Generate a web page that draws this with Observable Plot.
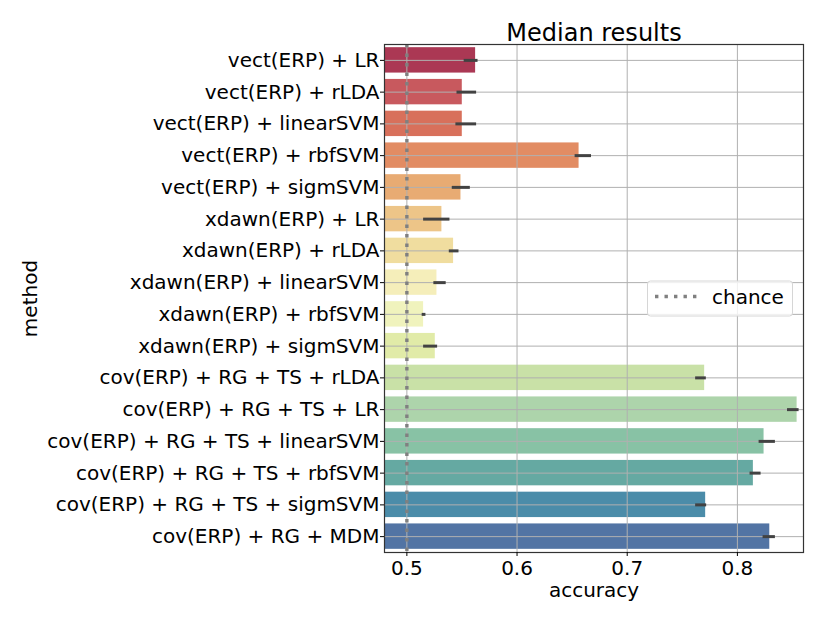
<!DOCTYPE html>
<html>
<head>
<meta charset="utf-8">
<script src="https://cdn.jsdelivr.net/npm/d3@7"></script>
<script src="https://cdn.jsdelivr.net/npm/@observablehq/plot@0.6"></script>
<style>
  html, body { margin: 0; padding: 0; background: white; }
  #chart { width: 830px; height: 623px; }
</style>
</head>
<body>
<div id="chart"></div>
<script>
const methods = [
  "vect(ERP) + LR",
  "vect(ERP) + rLDA",
  "vect(ERP) + linearSVM",
  "vect(ERP) + rbfSVM",
  "vect(ERP) + sigmSVM",
  "xdawn(ERP) + LR",
  "xdawn(ERP) + rLDA",
  "xdawn(ERP) + linearSVM",
  "xdawn(ERP) + rbfSVM",
  "xdawn(ERP) + sigmSVM",
  "cov(ERP) + RG + TS + rLDA",
  "cov(ERP) + RG + TS + LR",
  "cov(ERP) + RG + TS + linearSVM",
  "cov(ERP) + RG + TS + rbfSVM",
  "cov(ERP) + RG + TS + sigmSVM",
  "cov(ERP) + RG + MDM"
];
const accuracy = [0.5624, 0.5503, 0.5503, 0.6563, 0.5491, 0.5318, 0.5424, 0.5273,
                  0.5152, 0.5258, 0.7703, 0.8542, 0.8242, 0.8145, 0.7712, 0.8294];
const ciLow    = [0.5520, 0.5455, 0.5445, 0.6527, 0.5412, 0.5152, 0.5385, 0.5245,
                  0.5139, 0.5152, 0.7621, 0.8455, 0.8197, 0.8115, 0.7621, 0.8233];
const ciHigh   = [0.5646, 0.5633, 0.5633, 0.6676, 0.5576, 0.5391, 0.5473, 0.5357,
                  0.5173, 0.5279, 0.7718, 0.8560, 0.8345, 0.8215, 0.7721, 0.8345];
const xTicks = [0.5, 0.6, 0.7, 0.8];
const chance = [0.5];
const chanceLabel = "chance";
const title = "Median results";

// Spectral colormap anchors (matplotlib), sampled like seaborn and desaturated 0.75
const spectralAnchors = ["#9e0142","#d53e4f","#f46d43","#fdae61","#fee08b","#ffffbf",
                         "#e6f598","#abdda4","#66c2a5","#3288bd","#5e4fa2"];
const spectral = d3.scaleLinear()
  .domain(d3.range(spectralAnchors.length).map(i => i / (spectralAnchors.length - 1)))
  .range(spectralAnchors)
  .interpolate(d3.interpolateRgb);
const palette = methods.map((m, i) => {
  const c = d3.hsl(spectral((i + 1) / (methods.length + 1)));
  c.s *= 0.75;
  return c.formatHex();
});

const data = methods.map((m, i) => ({
  method: m, acc: accuracy[i], lo: ciLow[i], hi: ciHigh[i], color: palette[i]
}));

const gridColor = "#b0b0b0";
const dash = "3.4,6.1";

const plot = Plot.plot({
  width: 830,
  height: 623,
  marginLeft: 384,
  marginRight: 27,
  marginTop: 44,
  marginBottom: 71,
  style: {fontFamily: "DejaVu Sans", fontSize: "20px", color: "black", background: "white"},
  x: {domain: [0.4797, 0.86]},
  y: {domain: methods, paddingInner: 0.2, paddingOuter: 0.1, round: false},
  color: {type: "identity"},
  marks: [
    Plot.barX(data, {x1: 0, x2: "acc", y: "method", fill: "color", clip: true}),
    Plot.ruleX(xTicks, {stroke: gridColor, strokeWidth: 1}),
    Plot.ruleY(methods, {y: d => d, stroke: gridColor, strokeWidth: 1}),
    Plot.ruleX(chance, {stroke: "#808080", strokeWidth: 3.4, strokeDasharray: dash}),
    Plot.ruleY(data, {y: "method", x1: "lo", x2: "hi", stroke: "#424242", strokeWidth: 3}),
    Plot.frame({stroke: "#333", strokeWidth: 1.2}),
    Plot.axisX({ticks: xTicks, tickFormat: d3.format(".1f"), tickSize: 4, tickPadding: 4,
                label: "accuracy", labelAnchor: "center", labelArrow: "none", labelOffset: 44}),
    Plot.axisY({tickSize: 4, tickPadding: 1, label: "method", labelAnchor: "center",
                labelArrow: "none", labelOffset: 362}),
    Plot.text([title], {frameAnchor: "top", dy: -4, fontSize: 24, lineAnchor: "bottom", fill: "black"})
  ]
});

document.getElementById("chart").appendChild(plot);

// legend
const svg = d3.select(plot);
const lg = svg.append("g").attr("text-anchor", "start");
lg.append("rect")
  .attr("x", 647.5).attr("y", 281).attr("width", 145).attr("height", 35)
  .attr("rx", 3).attr("fill", "white").attr("fill-opacity", 0.8)
  .attr("stroke", "#d6d6d6").attr("stroke-width", 1);
lg.append("line")
  .attr("x1", 655).attr("x2", 697).attr("y1", 296.5).attr("y2", 296.5)
  .attr("stroke", "#808080").attr("stroke-width", 3.4).attr("stroke-dasharray", dash);
lg.append("text")
  .attr("x", 712).attr("y", 304).attr("text-anchor", "start")
  .attr("font-family", "DejaVu Sans").attr("font-size", 20).attr("fill", "black")
  .text(chanceLabel);
</script>
</body>
</html>
